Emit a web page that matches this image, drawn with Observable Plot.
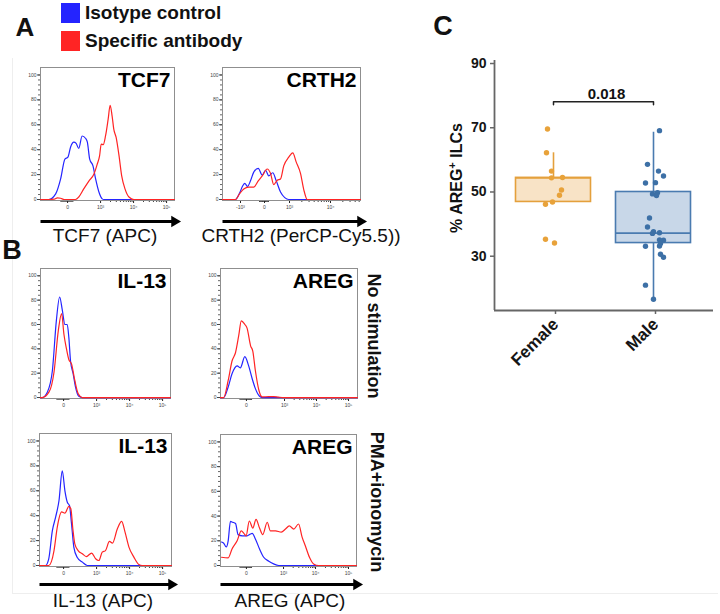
<!DOCTYPE html>
<html><head><meta charset="utf-8">
<script src="https://cdn.jsdelivr.net/npm/d3@7"></script>
<script src="https://cdn.jsdelivr.net/npm/@observablehq/plot@0.6"></script>
<style>
body{margin:0;background:#fff;font-family:"Liberation Sans",Arial,Helvetica,sans-serif;}
#fig{position:relative;width:720px;height:614px;overflow:hidden;background:#fff;}
</style></head><body><div id="fig"></div>
<script>
// ---------- Panel A/B histogram data: [display channel (decades), % of max] ----------
const tcf7Iso = [[-0.82,0],[-0.57,0],[-0.36,4.5],[-0.21,16.5],[-0.08,32.5],[0.01,34],[0.09,42],[0.19,46],[0.26,45],[0.34,41],[0.44,51],[0.55,49],[0.60,46],[0.67,32.5],[0.77,27],[0.85,16.5],[0.95,6],[1.05,0.5],[1.10,0],[3.24,0]];
const tcf7Spec = [[-0.82,0],[-0.57,0],[-0.40,0.3],[-0.31,1.3],[-0.21,1],[-0.10,0],[0.24,0],[0.34,2],[0.49,8.5],[0.65,15],[0.80,20.5],[0.90,28.5],[0.97,35],[1.02,44.5],[1.08,44],[1.15,51],[1.23,64.5],[1.29,75.7],[1.35,67],[1.40,56.5],[1.47,50],[1.56,35],[1.64,19],[1.74,8.5],[1.86,2],[2.01,0],[3.24,0]];
const crth2Iso = [[-1.68,0],[-1.16,0],[-1.0,5],[-0.87,11],[-0.79,13],[-0.68,10.5],[-0.56,15],[-0.43,22],[-0.25,25],[-0.09,19.5],[0.04,23.5],[0.17,19],[0.33,21.5],[0.47,15],[0.64,6],[0.81,1.5],[0.97,0],[3.84,0]];
const crth2Spec = [[-1.68,0],[-1.16,0],[-1.0,4.5],[-0.83,8.5],[-0.63,10],[-0.43,10],[-0.25,15],[-0.09,19],[0.11,24.5],[0.24,21],[0.37,12],[0.51,15.5],[0.64,16.5],[0.77,27],[0.97,34],[1.13,37.5],[1.27,30],[1.44,21],[1.57,8],[1.71,0],[3.84,0]];
const il13NoIso = [[-0.70,0],[-0.65,0],[-0.49,4.6],[-0.34,22],[-0.22,63],[-0.12,82.6],[-0.04,72],[0.04,60],[0.11,60],[0.16,49],[0.21,30],[0.29,19.5],[0.36,8.7],[0.46,1],[0.57,0],[3.24,0]];
const il13NoSpec = [[-0.70,0],[-0.65,0],[-0.44,4.6],[-0.29,21],[-0.16,55],[-0.06,69],[0.01,52],[0.08,41],[0.16,31],[0.24,27.6],[0.34,14],[0.44,3.3],[0.57,0],[3.24,0]];
const aregNoIso = [[-0.81,0],[-0.71,0],[-0.57,8.7],[-0.45,19.5],[-0.29,26],[-0.19,24.4],[-0.05,33.6],[0.07,26],[0.18,15.4],[0.28,7.3],[0.41,1],[0.49,0],[3.47,0]];
const aregNoSpec = [[-0.81,0],[-0.71,0],[-0.57,14],[-0.45,30],[-0.34,37],[-0.24,51],[-0.16,63],[-0.05,60],[0.02,57],[0.13,42.5],[0.20,38],[0.28,22],[0.39,6],[0.49,0.5],[0.70,0.8],[0.85,0.8],[1.01,0.3],[1.17,0],[3.47,0]];
const il13PmaIso = [[-0.73,0],[-0.55,0],[-0.45,5.4],[-0.34,28],[-0.24,39],[-0.14,52],[-0.04,76],[0.04,60],[0.11,51],[0.18,48],[0.24,33.5],[0.31,14.8],[0.41,6.7],[0.57,2.7],[0.72,0],[3.27,0]];
const il13PmaSpec = [[-0.73,0],[-0.45,0],[-0.29,12],[-0.19,31],[-0.06,43],[0.04,42],[0.16,47.5],[0.22,45.6],[0.28,29.5],[0.34,17.4],[0.44,12],[0.57,9.4],[0.69,7.2],[0.85,10],[0.97,5.4],[1.07,4],[1.17,10.7],[1.27,12],[1.39,19.3],[1.48,18],[1.63,29.5],[1.76,35.4],[1.86,27],[1.98,14.8],[2.13,6.7],[2.28,0.8],[2.38,0],[3.27,0]];
const aregPmaIso = [[-0.78,19],[-0.71,18],[-0.63,15],[-0.57,20],[-0.50,35.7],[-0.43,35],[-0.34,34],[-0.26,25],[-0.13,24],[0.02,24],[0.13,25.5],[0.18,26],[0.28,21.5],[0.41,13.4],[0.54,6.7],[0.70,3.5],[0.85,1.3],[1.01,0],[3.44,0]];
const aregPmaSpec = [[-0.78,6.7],[-0.57,6.2],[-0.45,13.4],[-0.29,20],[-0.16,28],[-0.08,26],[-0.01,24],[0.09,36],[0.20,30.3],[0.30,37.3],[0.41,30.3],[0.51,25],[0.65,35],[0.75,28],[0.91,28],[1.09,27],[1.22,29.5],[1.34,32],[1.48,29.5],[1.63,33.6],[1.74,23],[1.84,16],[1.97,6.7],[2.10,1.3],[2.26,0],[3.44,0]];

// tick labels of the histogram axes
const histYTicks = [0,20,40,60,80,100];
const decadeText = ["0","10³","10⁴","10⁵"];
const decadeU = [0,1,2,3];
const crth2TickText = ["-10³","0","10³","10⁴"];
const crth2TickU = [-0.96,0,1,2.64];
const aregNoTickU = [0,1.19,2.19,3.19];
const aregPmaTickU = [0,1.16,2.16,3.19];

// ---------- Panel C data ----------
const groups = ["Female","Male"];
const femaleValues = [69.6,62.2,56.5,54.4,54.5,50.6,49.0,46.9,46.2,35.3,34.1];
const femaleJitter = [-0.06,-0.07,-0.02,-0.02,0.09,0.08,0.06,-0.01,-0.08,-0.08,0.01];
const maleValues = [69.1,58.6,56.5,55.0,52.8,52.9,49.4,49.8,48.9,41.9,39.1,37.6,37.1,37.3,35.1,35.0,34.0,33.2,33.1,30.6,29.7,21.0,16.6];
const maleJitter = [0.06,-0.06,0.05,0.10,-0.08,0.02,-0.01,0.04,0.03,-0.04,-0.06,0.00,-0.01,0.06,0.06,0.10,0.07,0.06,-0.08,0.07,0.10,-0.08,0.00];
const boxQ1 = [46.9,34.1];
const boxMedian = [54.4,37.2];
const boxQ3 = [54.4,50.0];
const whiskerLo = [46.2,16.6];
const whiskerHi = [62.2,68.6];
const pValueText = "0.018";
const bracketLevel = 78.1;

const FONT = '"Liberation Sans", Arial, Helvetica, sans-serif';
const BLUE = "#2424ff", RED = "#ff2424";
const fig = document.getElementById("fig");

function place(el, left, top){
  el.style.position = "absolute";
  el.style.left = left + "px";
  el.style.top = top + "px";
  fig.appendChild(el);
}
function label(html, cx, cy, {size=19, weight="normal", rotate=0, anchor="middle"} = {}){
  const d = document.createElement("div");
  d.innerHTML = html;
  d.style.cssText = `position:absolute;left:${cx}px;top:${cy}px;font-family:${FONT};font-size:${size}px;font-weight:${weight};line-height:1;white-space:nowrap;color:#111;transform:translate(${anchor==="start"?"0":"-50%"},-50%) rotate(${rotate}deg);`;
  fig.appendChild(d);
}

function minorTicks(U, T, domain){
  const out = [];
  const dec = U.filter((u,i) => T[i].startsWith("10"));
  for (let i = 0; i < dec.length; i++){
    const a = dec[i], step = i+1 < dec.length ? dec[i+1]-dec[i] : dec[i]-dec[i-1];
    for (let k = 2; k <= 9; k++){ const v = a + step*Math.log10(k); if (v < domain[1]) out.push(v); }
  }
  for (let v = -0.2; v <= 0.16; v += 0.03) out.push(v);
  return out;
}

function hist({x0, x1, y0, y1, domain, tickU, tickText, title, iso, spec, arrowDy}){
  const mL = 26, mR = 4, mT = 2, mB = 28;
  const fmt = new Map(tickU.map((u,i) => [u, tickText[i]]));
  const marks = [
    Plot.axisY({ticks: d3.range(0,101,4), tickSize: 2, tickFormat: () => "", stroke: "#666", label: null}),
    Plot.axisY({ticks: histYTicks, tickSize: 3, tickPadding: 1, fontSize: 5, fill: "#444", stroke: "#444", label: null}),
    Plot.axisX({ticks: minorTicks(tickU, tickText, domain), tickSize: 2, tickFormat: () => "", stroke: "#444", label: null}),
    Plot.axisX({ticks: tickU, tickFormat: d => fmt.get(d), tickSize: 3, tickPadding: 2, fontSize: 5, fill: "#444", stroke: "#222", label: null}),
    Plot.frame({stroke: "#8f8f8f"}),
    Plot.line(iso, {x: d => d[0], y: d => d[1], stroke: BLUE, strokeWidth: 1.2, curve: "monotone-x"}),
    Plot.line(spec, {x: d => d[0], y: d => d[1], stroke: RED, strokeWidth: 1.2, curve: "monotone-x"}),
    Plot.text([title], {text: d => d, frameAnchor: "top-right", dx: -4, dy: 5, fontSize: 21, fontWeight: "bold", fill: "#000", textAnchor: "end", lineAnchor: "top"})
  ];
  if (arrowDy != null){
    marks.push(Plot.link([0], {x1: domain[0], x2: domain[1], y1: -0.8, y2: -0.8, dy: arrowDy, stroke: "#000", strokeWidth: 3}));
    marks.push(Plot.dot([0], {x: domain[1], y: -0.8, dy: arrowDy, symbol: "triangle", r: 4.2, rotate: 90, fill: "#000", stroke: "none"}));
  }
  const svg = Plot.plot({
    width: x1 - x0 + mL + mR, height: y1 - y0 + mT + mB,
    marginLeft: mL, marginRight: mR, marginTop: mT, marginBottom: mB,
    x: {domain, axis: null}, y: {domain: [-0.8, 106], axis: null},
    style: {fontFamily: FONT, background: "transparent", overflow: "visible"},
    marks
  });
  place(svg, x0 - mL, y0 - mT);
}

// faint outer border
const border = document.createElement("div");
border.style.cssText = "position:absolute;left:12px;top:58px;width:705px;height:535px;border-left:1px solid #eeeeee;border-bottom:1px solid #eeeeee;";
fig.appendChild(border);

// Legend
[[BLUE, 3, "Isotype control", 12], [RED, 31, "Specific antibody", 40]].forEach(([c, top, txt, cy]) => {
  const s = document.createElement("div");
  s.style.cssText = `position:absolute;left:61px;top:${top}px;width:19px;height:20px;background:${c};`;
  fig.appendChild(s);
  label(txt, 85, cy, {size: 19, weight: "bold", anchor: "start"});
});
label("A", 25, 27, {size: 26, weight: "bold"});
label("B", 12, 250, {size: 27, weight: "bold"});
label("C", 443, 26, {size: 27, weight: "bold"});

hist({x0: 40, x1: 174, y0: 67, y1: 200, domain: [-0.82, 3.24], tickU: decadeU, tickText: decadeText, title: "TCF7", iso: tcf7Iso, spec: tcf7Spec, arrowDy: 21});
hist({x0: 222, x1: 360, y0: 67, y1: 200, domain: [-1.68, 3.84], tickU: crth2TickU, tickText: crth2TickText, title: "CRTH2", iso: crth2Iso, spec: crth2Spec, arrowDy: 21});
hist({x0: 40, x1: 170, y0: 268, y1: 398, domain: [-0.70, 3.24], tickU: decadeU, tickText: decadeText, title: "IL-13", iso: il13NoIso, spec: il13NoSpec, arrowDy: null});
hist({x0: 220, x1: 357, y0: 268, y1: 398, domain: [-0.81, 3.47], tickU: aregNoTickU, tickText: decadeText, title: "AREG", iso: aregNoIso, spec: aregNoSpec, arrowDy: null});
hist({x0: 39, x1: 171, y0: 433, y1: 566, domain: [-0.73, 3.27], tickU: decadeU, tickText: decadeText, title: "IL-13", iso: il13PmaIso, spec: il13PmaSpec, arrowDy: 18});
hist({x0: 220, x1: 356, y0: 434, y1: 566, domain: [-0.81, 3.44], tickU: aregPmaTickU, tickText: decadeText, title: "AREG", iso: aregPmaIso, spec: aregPmaSpec, arrowDy: 18});

label("TCF7 (APC)", 105, 235, {size: 19});
label("CRTH2 (PerCP-Cy5.5))", 301, 235, {size: 19});
label("IL-13 (APC)", 103, 600, {size: 19});
label("AREG (APC)", 290, 600, {size: 19});
label("No stimulation", 374, 336, {size: 18, weight: "bold", rotate: 90});
label("PMA+ionomycin", 377, 502, {size: 18, weight: "bold", rotate: 90});

// ---------- Panel C ----------
const groupFill = ["#F8E3C6", "#C8D7E8"];
const groupStroke = ["#E4A03C", "#4A7BB0"];
const pointColor = ["#E8A23A", "#3D70A6"];
const boxes = groups.map((g, i) => ({g: i + 1, q1: boxQ1[i], med: boxMedian[i], q3: boxQ3[i], lo: whiskerLo[i], hi: whiskerHi[i]}));
const pts = [
  femaleValues.map((v, i) => ({g: 1, v, j: femaleJitter[i]})),
  maleValues.map((v, i) => ({g: 2, v, j: maleJitter[i]}))
];
const HW = 0.375;
const xLo = 0.41, yLo = 13.1;
const cMarks = [];
boxes.forEach((b, i) => {
  cMarks.push(Plot.ruleX([b], {x: "g", y1: "q3", y2: "hi", stroke: groupStroke[i], strokeWidth: 1.6}));
  cMarks.push(Plot.ruleX([b], {x: "g", y1: "lo", y2: "q1", stroke: groupStroke[i], strokeWidth: 1.6}));
  cMarks.push(Plot.rect([b], {x1: d => d.g - HW, x2: d => d.g + HW, y1: "q1", y2: "q3", fill: groupFill[i], stroke: groupStroke[i], strokeWidth: 1.6}));
  cMarks.push(Plot.ruleY([b], {y: "med", x1: d => d.g - HW, x2: d => d.g + HW, stroke: groupStroke[i], strokeWidth: 1.6}));
});
pts.forEach((p, i) => cMarks.push(Plot.dot(p, {x: d => d.g + d.j, y: "v", r: 2.7, fill: pointColor[i], stroke: "none"})));
const svgC = Plot.plot({
  width: 300, height: 400,
  marginLeft: 74, marginRight: 7, marginTop: 60, marginBottom: 90,
  x: {domain: [xLo, 2.60], axis: null},
  y: {domain: [yLo, 90.94], axis: null},
  style: {fontFamily: FONT, background: "transparent", overflow: "visible", fontWeight: "bold"},
  marks: [
    ...cMarks,
    Plot.line([[1, bracketLevel - 0.9], [1, bracketLevel], [2, bracketLevel], [2, bracketLevel - 0.9]], {x: d => d[0], y: d => d[1], stroke: "#222", strokeWidth: 1.5}),
    Plot.text([pValueText], {text: d => d, x: 1.5, y: bracketLevel, dy: -3, dx: 3, lineAnchor: "bottom", fontSize: 15, fontWeight: "bold", fill: "#111"}),
    Plot.ruleX([xLo], {stroke: "#666", strokeWidth: 1.8}),
    Plot.ruleY([yLo], {stroke: "#666", strokeWidth: 1.8}),
    Plot.axisY({ticks: [30, 50, 70, 90], tickSize: 4, tickPadding: 4, fontSize: 14, fontWeight: "bold", stroke: "#666", strokeWidth: 1.5, fill: "#151515", label: null}),
    Plot.axisX({ticks: [1, 2], tickFormat: d => groups[d - 1], tickRotate: -45, tickSize: 4, tickPadding: 7, dx: 2, fontSize: 17, fontWeight: "bold", stroke: "#666", strokeWidth: 1.5, fill: "#151515", label: null})
  ]
});
place(svgC, 420, 0);
label("% AREG<sup style=\"font-size:11px;vertical-align:6px;line-height:0\">+</sup> ILCs", 457, 178, {size: 16, weight: "bold", rotate: -90});
</script></body></html>
